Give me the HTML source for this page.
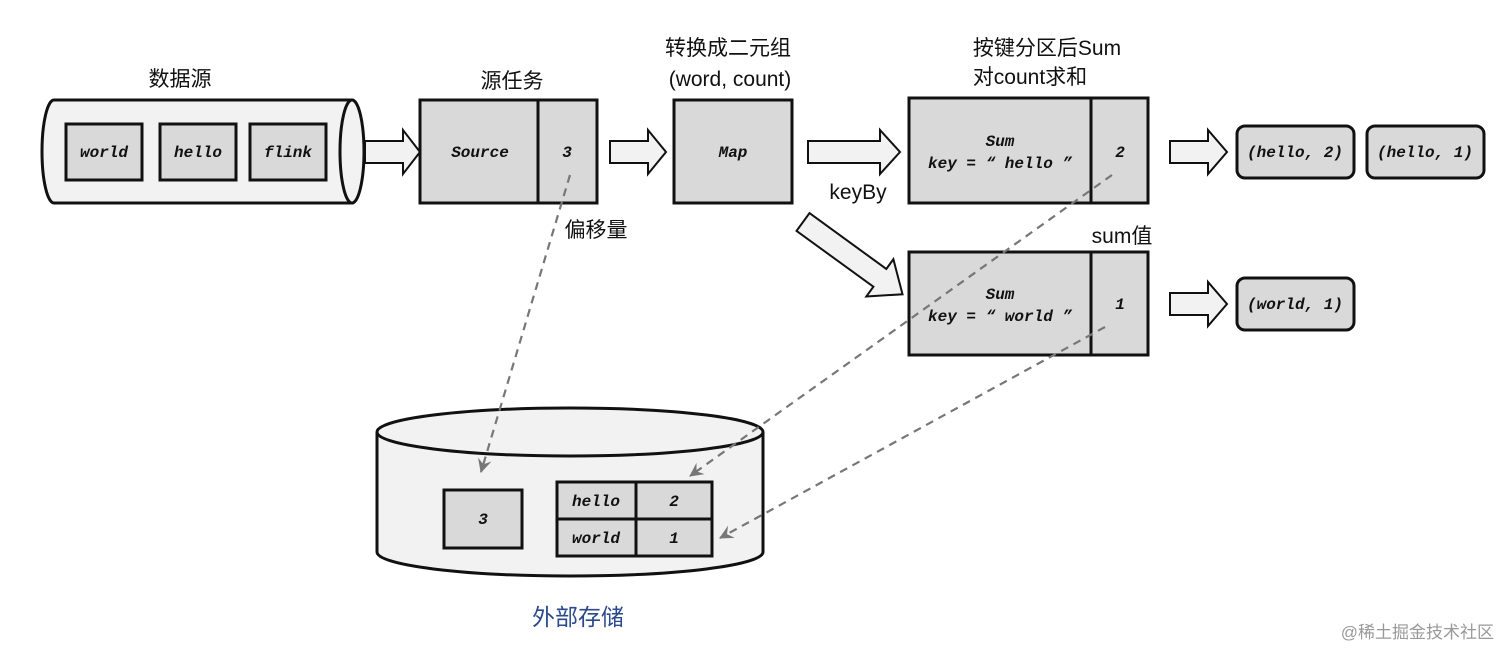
<!DOCTYPE html>
<html><head><meta charset="utf-8"><style>
html,body{margin:0;padding:0;background:#fff;}
svg{display:block;}
.m{font-family:"Liberation Mono","DejaVu Sans Mono",monospace;font-style:italic;font-weight:bold;font-size:16px;fill:#111;}
.c{font-family:"Liberation Sans","Noto Sans CJK SC",sans-serif;font-size:21px;fill:#111;}
</style></head><body>
<svg width="1512" height="660" viewBox="0 0 1512 660" xmlns="http://www.w3.org/2000/svg">
<defs>
<marker id="ah" markerWidth="16" markerHeight="16" refX="13" refY="8" orient="auto" markerUnits="userSpaceOnUse">
<path d="M0,1 L14,8 L0,15 L5,8 Z" fill="#777"/></marker>
</defs>
<path d="M54,100 L352,100 L352,203 L54,203 A12,51.5 0 0 1 54,100 Z" fill="#f2f2f2" stroke="#111" stroke-width="3"/>
<ellipse cx="352" cy="151.5" rx="12" ry="51.5" fill="#f2f2f2" stroke="#111" stroke-width="3"/>
<g fill="#d9d9d9" stroke="#111" stroke-width="3">
<rect x="66" y="124" width="76" height="56"/><rect x="160" y="124" width="76" height="56"/><rect x="250" y="124" width="76" height="56"/>
</g>
<text class="m" x="104" y="157" text-anchor="middle">world</text>
<text class="m" x="198" y="157" text-anchor="middle">hello</text>
<text class="m" x="288" y="157" text-anchor="middle">flink</text>
<g fill="#f2f2f2" stroke="#111" stroke-width="2">
<polygon points="365,141 403,141 403,130 420,152 403,174 403,163 365,163"/>
<polygon points="610,141 648,141 648,130 666,152 648,174 648,163 610,163"/>
<polygon points="808,141 880,141 880,130 900,152 880,174 880,163 808,163"/>
<polygon points="1170,141 1208,141 1208,130 1227,152 1208,174 1208,163 1170,163"/>
<polygon points="1170,293 1208,293 1208,282 1227,304 1208,326 1208,315 1170,315"/>
<polygon transform="translate(803,222) rotate(36)" points="0,-11 95,-11 95,-23 123,0 95,23 95,11 0,11"/>
</g>
<g fill="#d9d9d9" stroke="#111" stroke-width="3">
<rect x="420" y="100" width="177" height="103"/>
<rect x="674" y="100" width="118" height="103"/>
<rect x="909" y="98" width="239" height="105"/>
<rect x="909" y="252" width="239" height="103"/>
<rect x="1237" y="126" width="117" height="52" rx="8"/>
<rect x="1367" y="126" width="117" height="52" rx="8"/>
<rect x="1237" y="278" width="117" height="52" rx="8"/>
</g>
<g stroke="#111" stroke-width="3"><line x1="538" y1="100" x2="538" y2="203"/><line x1="1091" y1="98" x2="1091" y2="203"/><line x1="1091" y1="252" x2="1091" y2="355"/></g>
<text class="m" x="480" y="157" text-anchor="middle">Source</text>
<text class="m" x="567" y="157" text-anchor="middle">3</text>
<text class="m" x="733" y="157" text-anchor="middle">Map</text>
<text class="m" x="1000" y="146" text-anchor="middle">Sum</text>
<text class="m" x="1000" y="168" text-anchor="middle">key = “ hello ”</text>
<text class="m" x="1120" y="157" text-anchor="middle">2</text>
<text class="m" x="1000" y="299" text-anchor="middle">Sum</text>
<text class="m" x="1000" y="321" text-anchor="middle">key = “ world ”</text>
<text class="m" x="1120" y="309" text-anchor="middle">1</text>
<text class="m" x="1295" y="157" text-anchor="middle">(hello, 2)</text>
<text class="m" x="1425" y="157" text-anchor="middle">(hello, 1)</text>
<text class="m" x="1295" y="309" text-anchor="middle">(world, 1)</text>
<path d="M377,432 L377,552 A193,24 0 0 0 763,552 L763,432" fill="#f2f2f2" stroke="#111" stroke-width="3"/>
<ellipse cx="570" cy="432" rx="193" ry="24" fill="#f2f2f2" stroke="#111" stroke-width="3"/>
<g fill="#d9d9d9" stroke="#111" stroke-width="3">
<rect x="444" y="490" width="78" height="58"/>
<rect x="557" y="482" width="155" height="74"/>
</g>
<g stroke="#111" stroke-width="3"><line x1="636" y1="482" x2="636" y2="556"/><line x1="557" y1="519" x2="712" y2="519"/></g>
<text class="m" x="483" y="524" text-anchor="middle">3</text>
<text class="m" x="596" y="506" text-anchor="middle">hello</text>
<text class="m" x="674" y="506" text-anchor="middle">2</text>
<text class="m" x="596" y="543" text-anchor="middle">world</text>
<text class="m" x="674" y="543" text-anchor="middle">1</text>
<g stroke="#777" stroke-width="2.2" stroke-dasharray="8,6" fill="none" marker-end="url(#ah)">
<line x1="570" y1="175" x2="481" y2="472"/>
<line x1="1112" y1="175" x2="690" y2="476"/>
<line x1="1105" y1="327" x2="720" y2="538"/>
</g>
<text class="c" x="180" y="86" text-anchor="middle">数据源</text>
<text class="c" x="512" y="88" text-anchor="middle">源任务</text>
<text class="c" x="728" y="55" text-anchor="middle">转换成二元组</text>
<text class="c" x="730" y="86" text-anchor="middle">(word, count)</text>
<text class="c" x="1047" y="55" text-anchor="middle">按键分区后Sum</text>
<text class="c" x="1030" y="84" text-anchor="middle">对count求和</text>
<text class="c" x="858" y="199" text-anchor="middle">keyBy</text>
<text class="c" x="1122" y="243" text-anchor="middle">sum值</text>
<text class="c" x="596" y="237" text-anchor="middle">偏移量</text>
<text class="c" x="578" y="625" text-anchor="middle" style="fill:#2b4a8c;font-size:23px">外部存储</text>
<text x="1494" y="638" text-anchor="end" style="font-family:'Liberation Sans','Noto Sans CJK SC',sans-serif;font-size:17px;fill:#999">@稀土掘金技术社区</text>
</svg>
</body></html>
